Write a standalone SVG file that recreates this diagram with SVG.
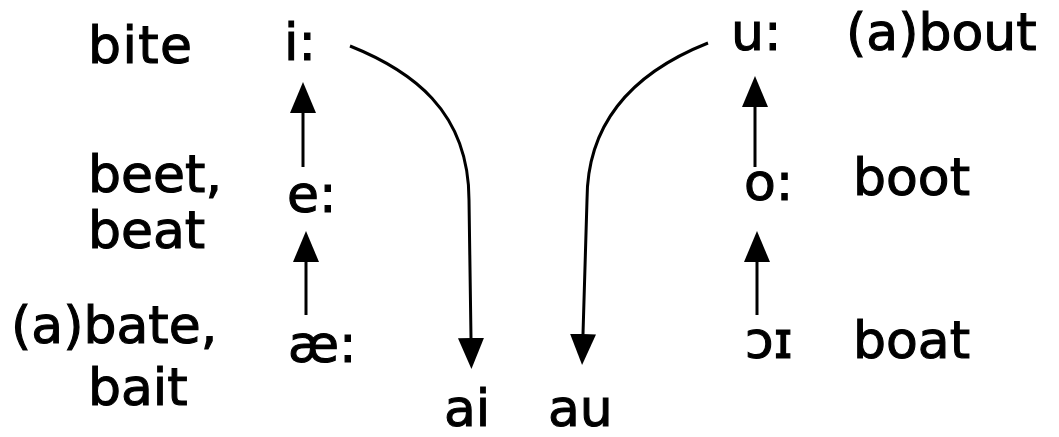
<svg xmlns="http://www.w3.org/2000/svg" width="1059" height="437" viewBox="0 0 1059 437">
<defs>
<style>
text{font-family:"DejaVu Sans","Liberation Sans",Arial,sans-serif;font-size:52px;fill:#000;stroke:#000;stroke-width:1.1}
.c{fill:none;stroke:#000;stroke-width:3}
</style>
<marker id="ah" viewBox="0 0 31 26" refX="0" refY="13" markerWidth="31" markerHeight="26" markerUnits="userSpaceOnUse" orient="auto">
<path d="M0,0 L31,13 L0,26 Z" fill="#000"/>
</marker>
</defs>
<rect width="1059" height="437" fill="#fff"/>
<g id="connectors">
<path class="c" d="M303,167 L303,113" marker-end="url(#ah)"/>
<path class="c" d="M306,315 L306,262" marker-end="url(#ah)"/>
<path class="c" d="M755,167 L755,107" marker-end="url(#ah)"/>
<path class="c" d="M757,315 L757,262" marker-end="url(#ah)"/>
<path class="c" d="M350,46 C410,70 469,110 469,200 L471,338" marker-end="url(#ah)"/>
<path class="c" d="M708,43 C650,66 587,110 587,200 L583,334" marker-end="url(#ah)"/>
</g>
<g id="label-bite"><text x="88" y="63" textLength="104" lengthAdjust="spacing">bite</text></g>
<g id="node-i"><text x="284" y="60">i:</text></g>
<g id="label-beet"><text x="88" y="192">beet,</text><text x="88" y="248">beat</text></g>
<g id="node-e"><text x="287" y="212">e:</text></g>
<g id="label-bate"><text x="11" y="343">(a)bate,</text><text x="88" y="405">bait</text></g>
<g id="node-ae"><text x="288" y="362">æ:</text></g>
<g id="node-ai"><text x="444" y="426">ai</text></g>
<g id="node-au"><text x="548" y="426">au</text></g>
<g id="node-u"><text x="731" y="50">u:</text></g>
<g id="label-about"><text x="846" y="50">(a)bout</text></g>
<g id="node-o"><text x="744" y="200">o:</text></g>
<g id="label-boot"><text x="853" y="195">boot</text></g>
<g id="node-open-o"><text x="745" y="358">ɔɪ</text></g>
<g id="label-boat"><text x="853" y="358">boat</text></g>
</svg>
